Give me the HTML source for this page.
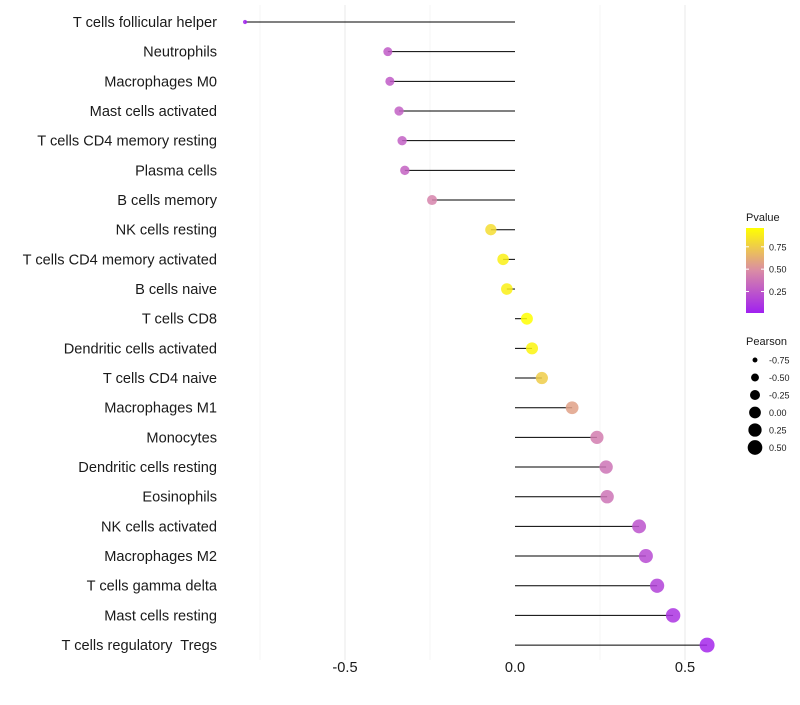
<!DOCTYPE html>
<html><head><meta charset="utf-8"><style>
body{margin:0;background:#fff;font-family:"Liberation Sans",sans-serif}
text{white-space:pre}
</style></head><body>
<svg id="chart" width="800" height="700" xmlns="http://www.w3.org/2000/svg" font-family="Liberation Sans, sans-serif">
<g id="grid"></g>
<g id="marks"></g>
<g id="ylabels"></g>
<g id="xlabels"></g>
<g id="legend"></g>
</svg>
<script>
const categories=["T cells follicular helper","Neutrophils","Macrophages M0","Mast cells activated","T cells CD4 memory resting","Plasma cells","B cells memory","NK cells resting","T cells CD4 memory activated","B cells naive","T cells CD8","Dendritic cells activated","T cells CD4 naive","Macrophages M1","Monocytes","Dendritic cells resting","Eosinophils","NK cells activated","Macrophages M2","T cells gamma delta","Mast cells resting","T cells regulatory  Tregs"];
const pearson=[-0.794,-0.374,-0.368,-0.341,-0.332,-0.324,-0.244,-0.071,-0.035,-0.024,0.035,0.05,0.079,0.168,0.241,0.268,0.271,0.365,0.385,0.418,0.465,0.565];
const pvalue=[0.02,0.27,0.27,0.29,0.29,0.3,0.45,0.82,0.9,0.9,0.96,0.92,0.75,0.57,0.42,0.38,0.38,0.24,0.2,0.16,0.1,0.04];
const xTicks=[-0.5,0,0.5];
const xTickLabels=["-0.5","0.0","0.5"];
const pTicks=[0.25,0.5,0.75];
const sizeTicks=[-0.75,-0.5,-0.25,0,0.25,0.5];
const NS="http://www.w3.org/2000/svg";
const x=v=>515+v*340;
const y=i=>22+i*29.67;
const r=v=>Math.sqrt(Math.max(1,4.5+(v+0.79)*38));
const pmin=0.01,pmax=0.96;
function col(p){const t=Math.max(0,Math.min(1,(p-pmin)/(pmax-pmin)));
 const a=[160,32,240],m=[218,140,165],b=[255,255,0];let c;
 if(t<0.5){const s=t/0.5;c=a.map((v,k)=>v+(m[k]-v)*s);}else{const s=(t-0.5)/0.5;c=m.map((v,k)=>v+(b[k]-v)*s);}
 return `rgb(${c.map(Math.round).join(',')})`;}
function el(tag,attrs,parent,text){const e=document.createElementNS(NS,tag);for(const k in attrs)e.setAttribute(k,attrs[k]);if(text!==undefined)e.textContent=text;parent.appendChild(e);return e;}
const grid=document.getElementById('grid');
[-0.75,-0.5,-0.25,0.25,0.5].forEach(v=>{const l=el('line',{x1:x(v),x2:x(v),y1:5,y2:660,stroke:v%0.5===0?'#ebebeb':'#f3f3f3','stroke-width':v%0.5===0?1.1:0.8},grid);

});
const marks=document.getElementById('marks'),yl=document.getElementById('ylabels');
categories.forEach((c,i)=>{
 const s=el('line',{x1:x(0),x2:x(pearson[i]),y1:y(i),y2:y(i),stroke:'#000','stroke-width':1},marks);
 
 
 const p=el('circle',{cx:x(pearson[i]),cy:y(i),r:r(pearson[i]),fill:col(pvalue[i]),'fill-opacity':0.85},marks);
 
 
 const t=el('text',{x:217,y:y(i)+5,'text-anchor':'end','font-size':14.6,fill:'#1a1a1a'},yl,c);
 
 
});
const xl=document.getElementById('xlabels');
xTicks.forEach((v,i)=>{const t=el('text',{x:x(v),y:672,'text-anchor':'middle','font-size':14.6,fill:'#1a1a1a'},xl,xTickLabels[i]);

});
const lg=document.getElementById('legend');
const t1=el('text',{x:746,y:221,'font-size':11,fill:'#1a1a1a'},lg,'Pvalue');


const defs=el('defs',{},lg);const g=el('linearGradient',{id:'pg',x1:0,y1:1,x2:0,y2:0},defs);
for(let k=0;k<=10;k++){el('stop',{offset:k/10,'stop-color':col(pmin+(pmax-pmin)*k/10)},g);}
const bar=el('rect',{x:746,y:228,width:18,height:85,fill:'url(#pg)'},lg);


const py=p=>313-(p-pmin)/(pmax-pmin)*85;
pTicks.forEach(p=>{el('line',{x1:746,x2:749,y1:py(p),y2:py(p),stroke:'#fff'},lg);el('line',{x1:761,x2:764,y1:py(p),y2:py(p),stroke:'#fff'},lg);
const t=el('text',{x:769,y:py(p)+3.5,'font-size':9,fill:'#1a1a1a'},lg,p.toFixed(2));

});
const t2=el('text',{x:746,y:345,'font-size':11,fill:'#1a1a1a'},lg,'Pearson');


sizeTicks.forEach((v,k)=>{const cy=360+k*17.5;
const c=el('circle',{cx:755,cy:cy,r:r(v),fill:'#000'},lg);


const t=el('text',{x:769,y:cy+3.5,'font-size':9,fill:'#1a1a1a'},lg,v.toFixed(2));

});
</script>
</body></html>
